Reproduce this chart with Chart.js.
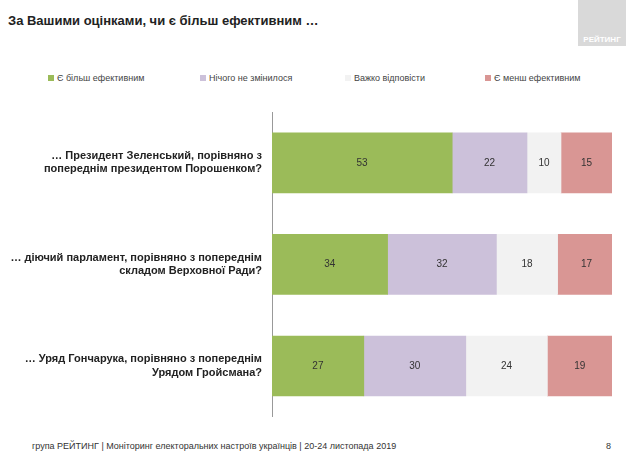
<!DOCTYPE html>
<html>
<head>
<meta charset="utf-8">
<script src="https://cdn.jsdelivr.net/npm/chart.js@4/dist/chart.umd.min.js"></script>
<style>
  body { margin: 0; width: 626px; height: 454px; background: #fff; position: relative; font-family: "Liberation Sans", Arial, sans-serif; overflow: hidden; }
  #title { position: absolute; left: 8px; top: 13px; font-size: 13px; font-weight: bold; color: #222; }
  #logo { position: absolute; left: 578px; top: 0; width: 48px; height: 46px; background: #d9d9d9; color: #fff; font-size: 8px; font-weight: bold; text-align: center; line-height: 80px; }
  #foot { position: absolute; left: 32px; top: 441px; font-size: 9px; color: #333; }
  #page { position: absolute; left: 606px; top: 441px; font-size: 9px; color: #333; }
  #wrap { position: absolute; left: 0; top: 60px; width: 626px; height: 380px; }
  #legend { position: absolute; top: 73px; left: 0; font-size: 9px; color: #444; }
  #legend span { position: absolute; white-space: nowrap; }
  #legend i { display: inline-block; width: 6px; height: 6px; margin-right: 3px; }
</style>
</head>
<body>
<div id="title">За Вашими оцінками, чи є більш ефективним …</div>
<div id="logo">РЕЙТИНГ</div>
<div id="legend"></div>
<div id="wrap"><canvas id="chart"></canvas></div>
<div id="foot">група РЕЙТИНГ | Моніторинг електоральних настроїв українців | 20-24 листопада 2019</div>
<div id="page">8</div>
<script>
// Питання
var categorias = [
  ["… Президент Зеленський, порівняно з", "попереднім президентом Порошенком?"],
  ["… діючий парламент, порівняно з попереднім", "складом Верховної Ради?"],
  ["… Уряд Гончарука, порівняно з попереднім", "Урядом Гройсмана?"]
]
var serieNames = ["Є більш ефективним", "Нічого не змінилося", "Важко відповісти", "Є менш ефективним"]
var masEfectivo = [53, 34, 27]
var nadaCambio = [22, 32, 30]
var dificil = [10, 18, 24]
var menosEfectivo = [15, 17, 19]
var colores = ["#9bbb59", "#ccc1da", "#f2f2f2", "#d99694"]

// Leyenda en HTML
var legendX = [48, 200, 345, 485]
var legend = document.getElementById("legend")
serieNames.forEach((n, i) => {
  var s = document.createElement("span")
  s.style.left = legendX[i] + "px"
  s.innerHTML = '<i style="background:' + colores[i] + '"></i>' + n
  legend.appendChild(s)
})

var valoresPlugin = {
  id: "valores",
  afterDatasetsDraw(chart) {
    var ctx = chart.ctx
    ctx.save()
    ctx.font = "10px 'Liberation Sans', Arial"
    ctx.fillStyle = "#333"
    ctx.textAlign = "center"
    ctx.textBaseline = "middle"
    chart.data.datasets.forEach((ds, i) => {
      chart.getDatasetMeta(i).data.forEach((bar, j) => {
        ctx.fillText(ds.data[j], (bar.x + bar.base) / 2, bar.y)
      })
    })
    ctx.restore()
  },
}

var series = [masEfectivo, nadaCambio, dificil, menosEfectivo]
new Chart(document.getElementById("chart").getContext("2d"), {
  type: "bar",
  data: {
    labels: categorias,
    datasets: series.map((d, i) => ({
      label: serieNames[i],
      data: d,
      backgroundColor: colores[i],
      barThickness: 60,
    })),
  },
  options: {
    indexAxis: "y",
    responsive: true,
    maintainAspectRatio: false,
    animation: false,
    layout: { padding: { top: 52, right: 14, bottom: 0, left: 0 } },
    scales: {
      x: { stacked: true, min: 0, max: 100, display: false },
      y: {
        stacked: true,
        grid: { display: false, drawTicks: false },
        border: { color: "#999" },
        ticks: { color: "#222", font: { size: 11, weight: "bold", family: "'Liberation Sans', Arial" }, padding: 10 },
        afterFit: (s) => { s.width = 272 },
      },
    },
    plugins: {
      legend: { display: false },
      tooltip: { enabled: false },
    },
  },
  plugins: [valoresPlugin],
})
</script>
</body>
</html>
